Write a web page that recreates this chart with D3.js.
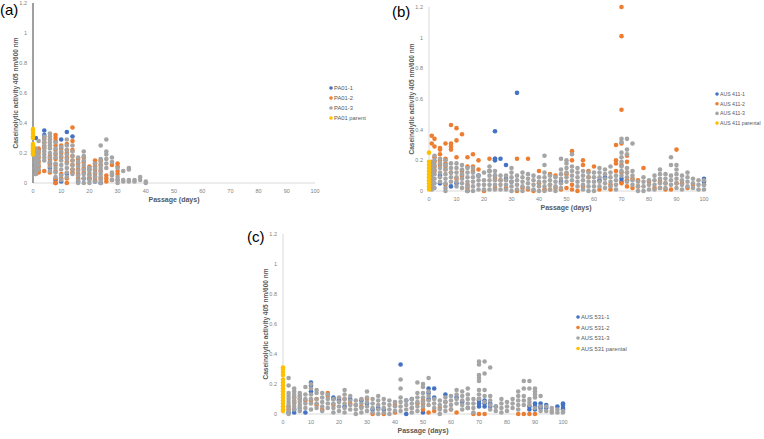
<!DOCTYPE html>
<html lang="en">
<head>
<meta charset="UTF-8">
<script src="https://d3js.org/d3.v7.min.js"></script>
<style>
  body { margin: 0; background: #fff; }
  svg { display: block; font-family: "Liberation Sans", Arial, sans-serif; }
</style>
</head>
<body>
<div id="plot"></div>
<script>
// tick values shared by the three panels
const xTicks = [0, 10, 20, 30, 40, 50, 60, 70, 80, 90, 100];
const yTicks = [0, 0.2, 0.4, 0.6, 0.8, 1, 1.2];

const colors = ["#4472c4", "#ed7d31", "#a5a5a5", "#ffc000"];

// ---- panel (a): PA01 ----
const namesA = ["PA01-1", "PA01-2", "PA01-3", "PA01 parent"];
const a1 = [[1,[0.30,0.12,0.08]],[4,[0.35,0.32]],[6,[0.10,0.13]],[8,[0.02,0.00]],[10,[0.29,0.01]],
  [12,[0.34,0.06]],[14,[0.31]],[16,[0.01]],[18,[0.03]],[20,[0.03]],[22,[0.01]],[24,[0.00]]];
const a2 = [[1,[0.22,0.06]],[2,[0.23,0.22,0.20,0.17,0.14,0.11,0.08,0.07]],[4,[0.30,0.27,0.24,0.08]],
  [6,[0.18,0.16,0.14,0.12,0.07]],[8,[0.32,0.30,0.28,0.25,0.22,0.19,0.16,0.12,0.08,0.03,0.00]],
  [10,[0.25,0.23,0.20,0.17,0.06,0.03]],[12,[0.26,0.22,0.20,0.17,0.14,0.03,0.00]],
  [14,[0.37,0.28,0.22,0.18,0.15,0.12,0.09,0.07]],[16,[0.16,0.13,0.09,0.06,0.03]],[18,[0.17,0.14,0.10,0.07]],
  [20,[0.11,0.09,0.06,0.03]],[22,[0.15,0.13,0.11,0.09,0.06,0.04,0.02]],[24,[0.15,0.12,0.08,0.03]],
  [26,[0.05,0.03,0.01]],[28,[0.12,0.06,0.02]],[30,[0.13,0.11,0.08,0.06,0.02]]];
const a3 = [[1,[0.06,0.08,0.10,0.12,0.14,0.16,0.18,0.20,0.22,0.23]],[2,[0.28,0.21,0.18,0.15,0.12,0.09]],
  [4,[0.31,0.29,0.27,0.25,0.23,0.21,0.19,0.17,0.15]],[6,[0.33,0.31,0.29,0.27,0.25,0.23,0.20,0.17,0.14,0.11,0.08]],
  [8,[0.27,0.23,0.20,0.17,0.13,0.10,0.07,0.04]],[10,[0.24,0.21,0.18,0.15,0.12,0.09,0.05,0.02]],
  [12,[0.29,0.25,0.22,0.19,0.16,0.13,0.10,0.07,0.04]],[14,[0.25,0.21,0.18,0.15,0.12,0.09,0.06]],
  [16,[0.17,0.14,0.11,0.08,0.05,0.02,0.00]],[18,[0.21,0.18,0.15,0.12,0.09,0.06,0.03,0.00]],
  [20,[0.10,0.08,0.05,0.02,0.00]],[22,[0.13,0.10,0.07,0.04,0.01]],
  [24,[0.25,0.16,0.14,0.12,0.10,0.08,0.06,0.04,0.02,0.00]],[26,[0.29,0.21,0.19,0.16,0.13,0.10]],
  [28,[0.17,0.14,0.07,0.05,0.02]],[30,[0.10,0.04,0.02,0.00]],[32,[0.08,0.02,0.01]],[34,[0.10,0.09,0.02,0.01]],
  [36,[0.02,0.01]],[38,[0.04,0.02]],[40,[0.01,0.00]]];
const a4 = [[0,[0.36,0.35,0.33,0.31,0.30,0.26,0.25,0.24,0.23,0.22,0.21,0.20,0.19]]];

// ---- panel (b): AUS 411 ----
const namesB = ["AUS 411-1", "AUS 411-2", "AUS 411-3", "AUS 411 parental"];
const b1 = [[1,[0.08,0.04]],[4,[0.10,0.05]],[8,[0.03]],[10,[0.05]],[14,[0.00]],[18,[0.10]],[22,[0.13]],
  [24,[0.39,0.21,0.21,0.20,0.10]],[26,[0.21]],[28,[0.17,0.08]],[30,[0.06]],[32,[0.64]],[48,[0.06]],
  [62,[0.07]],[64,[0.09]],[70,[0.08,0.06]],[100,[0.08,0.06,0.04]]];
const b2 = [[1,[0.36,0.31,0.18,0.16]],[2,[0.34,0.29,0.22,0.19,0.16,0.13]],[4,[0.28,0.27,0.24,0.20,0.17]],
  [6,[0.31,0.21,0.18,0.16,0.14,0.04]],[8,[0.43,0.31,0.29,0.27,0.12]],[10,[0.41,0.33,0.22,0.08]],
  [12,[0.37,0.13,0.10]],[14,[0.22,0.16,0.04,0.02]],[16,[0.24,0.16,0.13]],[18,[0.20,0.14]],[20,[0.00]],
  [22,[0.21]],[24,[0.08,0.02]],[26,[0.07]],[28,[0.02]],[32,[0.21,0.00]],[34,[0.02]],[36,[0.21,0.01]],
  [38,[0.00]],[40,[0.13,0.05]],[42,[0.01]],[44,[0.11,0.04,0.01]],[46,[0.10,0.02]],[48,[0.01]],
  [50,[0.11,0.02]],[52,[0.26,0.20,0.04,0.01]],[54,[0.00]],[56,[0.20,0.17,0.03]],[58,[0.13,0.09]],
  [60,[0.16]],[62,[0.01]],[66,[0.04,0.01]],[68,[0.30,0.20,0.18,0.13]],[70,[1.2,1.01,0.53,0.31,0.17,0.12,0.05]],
  [72,[0.23,0.19,0.12,0.07,0.03]],[74,[0.08,0.02]],[76,[0.07,0.03]],[78,[0.15]],[80,[0.06]],[82,[0.02]],
  [84,[0.06,0.02]],[86,[0.05,0.01]],[88,[0.01]],[90,[0.27,0.05]],[92,[0.05]],[94,[0.02]],[96,[0.04]]];
const b3 = [[1,[0.19,0.17,0.15,0.13,0.11,0.09,0.07,0.05,0.03,0.01]],[2,[0.23,0.20,0.17,0.14,0.11,0.08,0.05,0.02]],
  [4,[0.21,0.18,0.15,0.12,0.09,0.06]],[6,[0.20,0.17,0.14,0.11,0.08,0.05,0.02,0.00]],[8,[0.18,0.15,0.12,0.09,0.06]],
  [10,[0.18,0.15,0.12,0.09,0.06,0.03]],[12,[0.17,0.14,0.11,0.08,0.05,0.02]],[14,[0.15,0.12,0.09,0.06,0.03,0.00]],
  [16,[0.15,0.12,0.09,0.06,0.03,0.00]],[18,[0.10,0.07,0.04,0.01]],[20,[0.12,0.07,0.04,0.01]],
  [22,[0.16,0.13,0.10,0.07,0.04,0.01]],[24,[0.13,0.10,0.07,0.04,0.01]],[26,[0.10,0.07,0.04,0.01]],
  [28,[0.10,0.07,0.04,0.01]],[30,[0.15,0.12,0.09,0.06,0.03,0.00]],[32,[0.10,0.07,0.04,0.01]],
  [34,[0.12,0.09,0.06,0.03,0.00]],[36,[0.11,0.08,0.05,0.02]],[38,[0.10,0.07,0.04,0.01]],[40,[0.09,0.06,0.03,0.00]],
  [42,[0.23,0.17,0.12,0.09,0.06,0.03,0.00]],[44,[0.10,0.07,0.04,0.01]],[46,[0.09,0.06,0.03,0.00]],
  [48,[0.21,0.14,0.11,0.08,0.05,0.02]],[50,[0.20,0.18,0.15,0.12,0.09,0.06]],[52,[0.24,0.16,0.13,0.10,0.07]],
  [54,[0.15,0.12,0.09,0.06,0.03]],[56,[0.13,0.10,0.07,0.04,0.01]],[58,[0.12,0.09,0.06,0.03,0.00]],
  [60,[0.12,0.09,0.06,0.03,0.00]],[62,[0.15,0.12,0.09,0.06,0.03]],[64,[0.14,0.11,0.08,0.05,0.02]],
  [66,[0.16,0.12,0.09,0.06,0.03]],[68,[0.10,0.07,0.04,0.01]],[70,[0.34,0.32,0.25,0.22,0.19,0.16,0.13,0.10]],
  [72,[0.34,0.27,0.24,0.15,0.12,0.09,0.06]],[74,[0.31,0.13,0.10,0.07,0.04]],[76,[0.06,0.03,0.00]],
  [78,[0.09,0.06,0.03,0.00]],[80,[0.07,0.04,0.01]],[82,[0.10,0.07,0.04,0.01]],[84,[0.14,0.11,0.08,0.05,0.02]],
  [86,[0.11,0.08,0.05,0.02]],[88,[0.22,0.17,0.10,0.07,0.04]],[90,[0.17,0.14,0.11,0.08,0.05,0.02]],
  [92,[0.10,0.07,0.04,0.01]],[94,[0.12,0.09,0.06,0.03]],[96,[0.08,0.05,0.02]],[98,[0.07,0.04,0.01]],
  [100,[0.07,0.04,0.01]]];
const b4 = [[0,[0.25,0.19,0.17,0.15,0.13,0.11,0.09,0.07,0.05,0.03,0.01]]];

// ---- panel (c): AUS 531 ----
const namesC = ["AUS 531-1", "AUS 531-2", "AUS 531-3", "AUS 531 parental"];
const c1 = [[2,[0.01]],[4,[0.03,0.01]],[8,[0.01]],[10,[0.21,0.19,0.15]],[18,[0.11,0.10]],[20,[0.10,0.09]],
  [22,[0.05]],[24,[0.10]],[28,[0.09]],[30,[0.07]],[32,[0.03]],[34,[0.04]],[36,[0.03]],[42,[0.33]],
  [44,[0.09,0.00]],[46,[0.10]],[50,[0.01]],[52,[0.17,0.14,0.10]],[54,[0.17,0.11]],[58,[0.13]],[62,[0.11]],
  [64,[0.08]],[66,[0.04]],[70,[0.10,0.09,0.07,0.05]],[72,[0.09,0.07,0.05]],[74,[0.07,0.05]],[76,[0.05]],
  [88,[0.05,0.03]],[90,[0.07,0.05,0.03]],[92,[0.07,0.05,0.04]],[94,[0.06,0.04]],[98,[0.05]],
  [100,[0.07,0.06,0.04,0.03]]];
const c2 = [[2,[0.05,0.03]],[4,[0.11,0.08]],[6,[0.12,0.10,0.04]],[8,[0.09]],[10,[0.09]],[12,[0.10,0.06]],
  [14,[0.03]],[16,[0.14,0.12]],[18,[0.06]],[22,[0.10]],[24,[0.07]],[26,[0.06]],[28,[0.05]],[30,[0.10]],
  [32,[0.00]],[36,[0.00]],[40,[0.06,0.01]],[46,[0.04]],[48,[0.07]],[50,[0.09,0.07,0.03]],[52,[0.01]],
  [54,[0.02]],[56,[0.04]],[58,[0.08]],[60,[0.03]],[62,[0.01]],[68,[0.00]],[70,[0.00]],[72,[0.00]],
  [84,[0.00]],[86,[0.00]],[88,[0.00]],[90,[0.00]]];
const c3 = [[2,[0.24,0.19,0.14,0.12,0.10,0.08,0.06,0.04,0.02,0.00]],[4,[0.17,0.15,0.13,0.11,0.09,0.07,0.05,0.03]],
  [6,[0.14,0.12,0.10,0.08,0.06,0.04,0.02]],[8,[0.18,0.13,0.10,0.07,0.04]],[10,[0.20,0.17,0.13,0.10,0.07,0.03]],
  [12,[0.16,0.14,0.10,0.07,0.04]],[14,[0.14,0.11,0.08,0.05,0.02]],[16,[0.13,0.10,0.07,0.04]],
  [18,[0.10,0.07,0.04,0.01]],[20,[0.11,0.08,0.05,0.02]],[22,[0.16,0.13,0.10,0.07,0.04,0.01]],
  [24,[0.12,0.09,0.06,0.03]],[26,[0.09,0.06,0.03,0.00]],[28,[0.10,0.07,0.04,0.01]],[30,[0.15,0.11,0.08,0.05,0.02]],
  [32,[0.10,0.07,0.04,0.01]],[34,[0.12,0.09,0.06,0.03,0.00]],[36,[0.10,0.07,0.04,0.01]],[38,[0.09,0.06,0.03,0.00]],
  [40,[0.08,0.05,0.02]],[42,[0.23,0.17,0.11,0.08,0.05,0.02]],[44,[0.09,0.06,0.03]],[46,[0.10,0.07,0.04,0.01]],
  [48,[0.21,0.14,0.11,0.08,0.05,0.02]],[50,[0.20,0.18,0.14,0.11,0.08,0.05]],[52,[0.24,0.15,0.12,0.09,0.06]],
  [54,[0.10,0.07,0.04]],[56,[0.09,0.06,0.03,0.00]],[58,[0.11,0.08,0.05,0.02]],[60,[0.12,0.09,0.06,0.03]],
  [62,[0.16,0.13,0.10,0.07]],[64,[0.15,0.12,0.09,0.06,0.03]],[66,[0.17,0.13,0.10,0.07,0.04]],
  [68,[0.10,0.07,0.04,0.01]],[70,[0.35,0.33,0.26,0.24,0.22,0.16,0.13,0.10]],[72,[0.35,0.27,0.16,0.12,0.08]],
  [74,[0.31,0.12,0.09,0.06,0.03]],[76,[0.05,0.02]],[78,[0.10,0.07,0.04,0.01]],[80,[0.08,0.05,0.02]],
  [82,[0.10,0.07,0.04]],[84,[0.15,0.12,0.09,0.06,0.03]],[86,[0.22,0.17,0.12,0.09,0.06]],
  [88,[0.22,0.17,0.10,0.08,0.06]],[90,[0.17,0.15,0.13,0.11,0.04]],[92,[0.12,0.05,0.02]],[94,[0.05,0.02]],
  [96,[0.04,0.02,0.01]],[98,[0.03,0.01]],[100,[0.02,0.01]]];
const c4 = [[0,[0.31,0.30,0.28,0.26,0.23,0.21,0.19,0.17,0.15,0.13,0.11,0.09,0.07,0.05,0.03,0.02]]];

const svg = d3.select("#plot").append("svg")
    .attr("width", 764)
    .attr("height", 439);

// flatten [day, [values]] rows into points
const flat = rows => rows.flatMap(([d, vs]) => vs.map(v => ({day: d, v: v})));

function panel(cfg) {
  const x = d3.scaleLinear().domain([0, 100]).range([cfg.left, cfg.right]);
  const y = d3.scaleLinear().domain([0, 1.2]).range([cfg.bottom, cfg.top]);
  const g = svg.append("g");

  // x axis
  g.append("line")
      .attr("x1", x(0)).attr("x2", x(100))
      .attr("y1", y(0)).attr("y2", y(0))
      .attr("stroke", "#d9d9d9").attr("stroke-width", 1);
  g.selectAll(".xt").data(xTicks).join("text")
      .attr("x", d => x(d))
      .attr("y", y(0) + 10)
      .attr("text-anchor", "middle")
      .attr("font-size", 5.5)
      .attr("fill", "#7f7f7f")
      .text(d => d);

  // y axis
  g.append("line")
      .attr("x1", x(0)).attr("x2", x(0))
      .attr("y1", y(0)).attr("y2", y(1.2))
      .attr("stroke", cfg.yLine).attr("stroke-width", 1);
  g.selectAll(".yt").data(yTicks).join("text")
      .attr("x", x(0) - 6)
      .attr("y", d => y(d) + 2)
      .attr("text-anchor", "end")
      .attr("font-size", 5.5)
      .attr("fill", "#7f7f7f")
      .text(d => d3.format("~g")(d));

  // titles
  g.append("text")
      .attr("x", cfg.xTitle[0]).attr("y", cfg.xTitle[1])
      .attr("text-anchor", "middle")
      .attr("font-size", 7).attr("font-weight", "bold")
      .attr("fill", "#595959")
      .text("Passage (days)");
  g.append("text")
      .attr("transform", `translate(${cfg.yTitle[0]},${cfg.yTitle[1]}) rotate(-90)`)
      .attr("text-anchor", "middle")
      .attr("font-size", 6.5).attr("font-weight", "bold")
      .attr("fill", "#595959")
      .text("Caseinolytic activity 405 nm/600 nm");
  g.append("text")
      .attr("x", cfg.tag[0]).attr("y", cfg.tag[1])
      .attr("font-size", 15)
      .attr("fill", "#000")
      .text(cfg.label);

  // points, series 1 drawn first
  cfg.series.forEach((s, i) => {
    g.append("g").selectAll("circle")
      .data(flat(s))
      .join("circle")
        .attr("cx", d => x(d.day))
        .attr("cy", d => y(d.v))
        .attr("r", 2.3)
        .attr("fill", colors[i]);
  });

  // legend
  const lg = g.append("g").attr("transform", `translate(${cfg.legend[0]},${cfg.legend[1]})`);
  cfg.names.forEach((n, i) => {
    lg.append("circle")
        .attr("cx", 0).attr("cy", i * cfg.legendStep)
        .attr("r", 1.8)
        .attr("fill", colors[i]);
    lg.append("text")
        .attr("x", 3).attr("y", i * cfg.legendStep + 2)
        .attr("font-size", cfg.legendFont)
        .attr("fill", "#595959")
        .text(n);
  });
}

panel({label: "(a)", left: 33, right: 315, top: 3, bottom: 183, yLine: "#404040",
  series: [a1, a2, a3, a4], names: namesA, xTitle: [174, 202], yTitle: [18, 93], tag: [0, 15],
  legend: [331, 88], legendStep: 10, legendFont: 5.8});
panel({label: "(b)", left: 429, right: 704, top: 7, bottom: 191, yLine: "#d9d9d9",
  series: [b1, b2, b3, b4], names: namesB, xTitle: [566, 210], yTitle: [414, 99], tag: [392, 17],
  legend: [717, 94], legendStep: 9.7, legendFont: 5.2});
panel({label: "(c)", left: 283, right: 563, top: 234, bottom: 414, yLine: "#d9d9d9",
  series: [c1, c2, c3, c4], names: namesC, xTitle: [423, 433], yTitle: [268, 324], tag: [247, 242],
  legend: [578, 317], legendStep: 10.5, legendFont: 5.8});
</script>
</body>
</html>
